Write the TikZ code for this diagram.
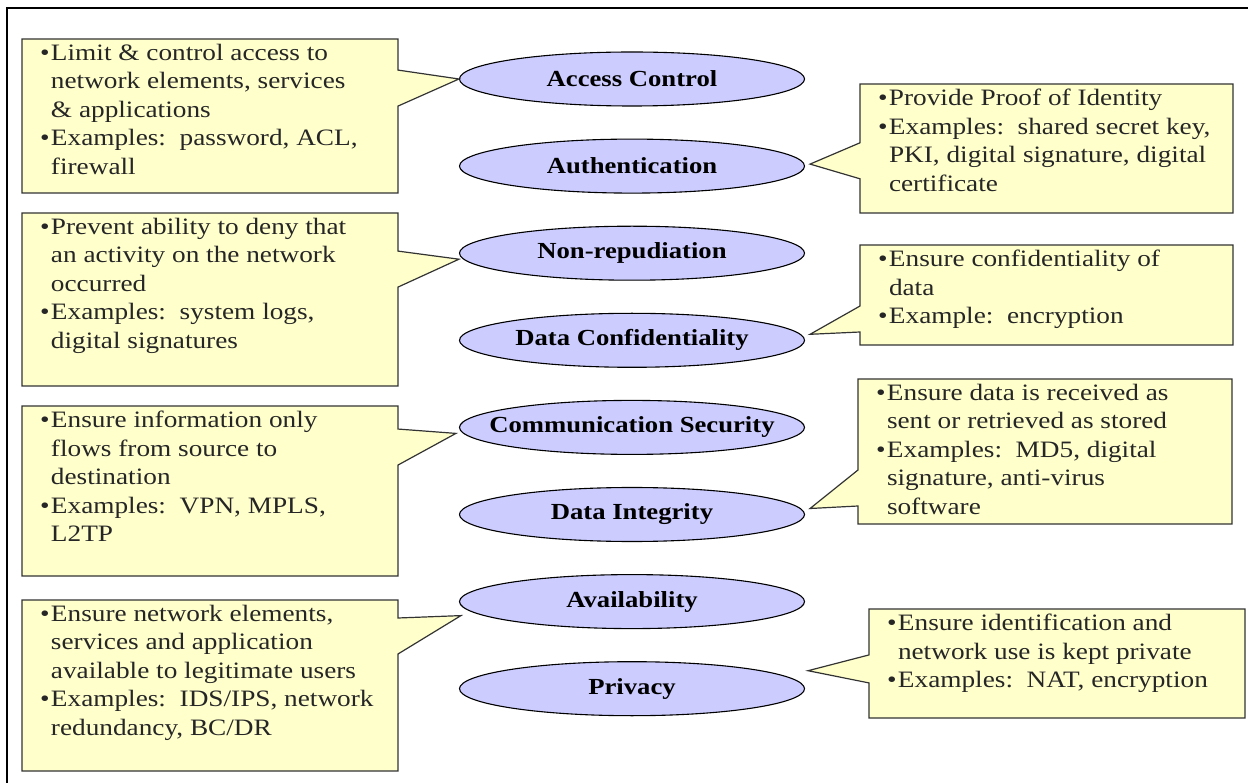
\documentclass[tikz,border=0pt]{standalone}
\usepackage{fontspec}
\setmainfont{Liberation Serif}[FakeStretch=1.16]
\usepackage{xcolor}
\usetikzlibrary{positioning,shapes.geometric,shapes.callouts}

\definecolor{noteyellow}{HTML}{FFFFCC}
\definecolor{notegray}{HTML}{333333}
\definecolor{ovalblue}{HTML}{CCCCFF}

% text of a note: width, height, items
\newcommand{\notetext}[3]{\parbox[c][#2][t]{#1}{\raggedright #3}}
\newcommand{\bitem}{\par\hangindent=11pt\hangafter=1\noindent\makebox[11pt][l]{\textbullet}}

\tikzset{
	oval/.style={ellipse, draw=black, fill=ovalblue, line width=1.1pt, minimum width=345pt, minimum height=54pt, inner xsep=-40pt, inner ysep=0pt, font=\fontsize{23}{26}\selectfont\bfseries},
	callbox/.style={rectangle callout, draw=notegray, fill=noteyellow, line width=1.2pt, inner xsep=18pt, inner ysep=5pt, callout pointer width=36pt, text=black!85, font=\fontsize{23.5}{28.5}\selectfont}
}

\begin{document}
\begin{tikzpicture}[x=1pt,y=-1pt]
	\useasboundingbox (0,0) rectangle (1248,783);
	\draw[line width=2pt] (7,783) |- (1248,8);

	\node[oval] (ac) at (632,79) {Access Control};
	\node[oval, below=32pt of ac] (au) {Authentication};
	\node[oval, below=32pt of au] (nr) {Non-repudiation};
	\node[oval, below=32pt of nr] (dc) {Data Confidentiality};
	\node[oval, below=32pt of dc] (cs) {Communication Security};
	\node[oval, below=32pt of cs] (di) {Data Integrity};
	\node[oval, below=32pt of di] (av) {Availability};
	\node[oval, below=32pt of av] (pr) {Privacy};

	% left notes
	\node[callbox, callout absolute pointer={(ac.west)}] (acnote) at (210,116)
		{\notetext{340pt}{144pt}{\bitem Limit \& control access to\newline network elements, services\newline \& applications
		\bitem Examples:\ \ password, ACL,\newline firewall}};
	\node[callbox, callout absolute pointer={([yshift=-6pt]nr.west)}] (nrnote) at (210,299.5)
		{\notetext{340pt}{163pt}{\bitem Prevent ability to deny that\newline an activity on the network\newline occurred
		\bitem Examples:\ \ system logs,\newline digital signatures}};
	\node[callbox, callout absolute pointer={([xshift=-3pt,yshift=-6pt]cs.west)}] (csnote) at (210,491)
		{\notetext{340pt}{160pt}{\bitem Ensure information only\newline flows from source to\newline destination
		\bitem Examples:\ \ VPN, MPLS,\newline L2TP}};
	\node[callbox, callout absolute pointer={([xshift=2pt,yshift=-14pt]av.west)}] (avnote) at (210,685.5)
		{\notetext{340pt}{161pt}{\bitem Ensure network elements,\newline services and application\newline available to legitimate users
		\bitem Examples:\ \ IDS/IPS, network\newline redundancy, BC/DR}};

	% right notes
	\node[callbox, callout absolute pointer={([xshift=5pt,yshift=2pt]au.east)}] (aunote) at (1046.5,148.5)
		{\notetext{337pt}{119pt}{\bitem Provide Proof of Identity
		\bitem Examples:\ \ shared secret key,\newline PKI, digital signature, digital\newline certificate}};
	\node[callbox, callout pointer width=26pt, callout absolute pointer={([xshift=5pt,yshift=6pt]dc.east)}] (dcnote) at (1046.5,295)
		{\notetext{337pt}{90pt}{\bitem Ensure confidentiality of\newline data
		\bitem Example:\ \ encryption}};
	\node[callbox, callout absolute pointer={([xshift=5pt,yshift=6pt]di.east)}] (dinote) at (1045,451.5)
		{\notetext{338pt}{135pt}{\bitem Ensure data is received as\newline sent or retrieved as stored
		\bitem Examples:\ \ MD5, digital\newline signature, anti-virus\newline software}};
	\node[callbox, callout pointer width=28pt, callout absolute pointer={([xshift=3pt,yshift=18pt]pr.east)}] (prnote) at (1057,663.5)
		{\notetext{340pt}{99pt}{\bitem Ensure identification and\newline network use is kept private
		\bitem Examples:\ \ NAT, encryption}};
\end{tikzpicture}
\end{document}
